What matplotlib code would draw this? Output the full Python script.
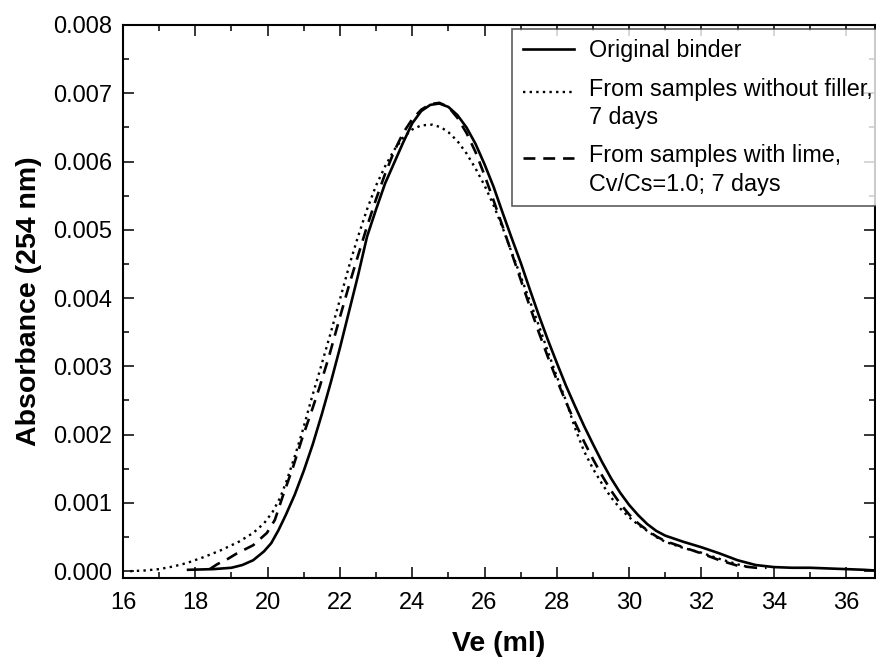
import matplotlib
matplotlib.use("Agg")
import matplotlib.pyplot as plt
import numpy as np
from matplotlib.ticker import MultipleLocator, FormatStrFormatter
from matplotlib.legend_handler import HandlerLine2D

plt.rcParams['font.family'] = ['Liberation Sans', 'DejaVu Sans']

# elution volume (ml) and absorbance (x1e-3)
ve_orig = [17.8, 18.5, 19.0, 19.3, 19.6, 19.9, 20.1, 20.3, 20.5, 20.75, 21.0, 21.25, 21.5,
           21.75, 22.0, 22.25, 22.5, 22.75, 23.0, 23.25, 23.5, 23.75, 24.0, 24.25, 24.5,
           24.75, 25.0, 25.25, 25.5, 25.75, 26.0, 26.25, 26.5, 26.75, 27.0, 27.25, 27.5,
           27.75, 28.0, 28.25, 28.5, 28.75, 29.0, 29.25, 29.5, 29.75, 30.0, 30.25, 30.5,
           30.75, 31.0, 31.5, 32.0, 32.5, 33.0, 33.5, 34.0, 34.5, 35.0, 35.5, 36.0, 36.5, 36.8]
abs_orig = [0.02, 0.03, 0.05, 0.09, 0.16, 0.29, 0.41, 0.6, 0.82, 1.12, 1.47, 1.86, 2.3,
            2.77, 3.27, 3.8, 4.33, 4.9, 5.3, 5.68, 5.98, 6.28, 6.56, 6.74, 6.83,
            6.85, 6.8, 6.68, 6.5, 6.26, 5.96, 5.63, 5.25, 4.88, 4.52, 4.13, 3.75,
            3.39, 3.05, 2.72, 2.42, 2.13, 1.86, 1.6, 1.36, 1.15, 0.97, 0.82, 0.69,
            0.59, 0.52, 0.43, 0.35, 0.26, 0.16, 0.09, 0.06, 0.05, 0.05, 0.04, 0.03, 0.02, 0.01]

ve_nofill = [16.2, 16.6, 17.0, 17.4, 17.77, 18.2, 18.68, 19.2, 19.6, 19.9, 20.14, 20.35,
             20.53, 20.75, 20.97, 21.2, 21.45, 21.75, 22.0, 22.27, 22.5, 22.75, 23.0,
             23.25, 23.5, 23.75, 24.0, 24.25, 24.56, 24.8, 25.0, 25.25, 25.5, 25.75,
             26.0, 26.25, 26.5, 26.75, 27.0, 27.25, 27.5, 27.75, 28.0, 28.25, 28.5,
             28.75, 29.0, 29.25, 29.5, 29.75, 30.0, 30.25, 30.5, 30.75, 31.0, 31.5,
             32.0, 32.5, 33.0, 33.3]
abs_nofill = [0.0, 0.01, 0.03, 0.07, 0.12, 0.2, 0.3, 0.43, 0.56, 0.7, 0.87, 1.08,
              1.33, 1.68, 2.06, 2.5, 2.95, 3.5, 3.98, 4.5, 4.9, 5.3, 5.65,
              5.93, 6.17, 6.35, 6.47, 6.53, 6.54, 6.5, 6.43, 6.3, 6.12, 5.9,
              5.65, 5.36, 5.03, 4.67, 4.32, 3.96, 3.6, 3.22, 2.85, 2.5, 2.1,
              1.76, 1.5, 1.28, 1.08, 0.92, 0.79, 0.68, 0.59, 0.5, 0.43, 0.34,
              0.27, 0.18, 0.1, 0.06]

ve_lime = [18.4, 18.6, 18.9, 19.15, 19.6, 19.98, 20.2, 20.42, 20.7, 20.94, 21.22, 21.44,
           21.7, 22.0, 22.27, 22.5, 22.75, 23.0, 23.25, 23.5, 23.75, 24.0, 24.25, 24.5,
           24.75, 25.0, 25.25, 25.5, 25.75, 26.0, 26.25, 26.5, 26.75, 27.0, 27.25, 27.5,
           27.75, 28.0, 28.25, 28.5, 28.75, 29.0, 29.25, 29.5, 29.75, 30.0, 30.25, 30.5,
           30.75, 31.0, 31.5, 32.0, 32.5, 33.0, 33.5, 33.8]
abs_lime = [0.03, 0.1, 0.18, 0.26, 0.38, 0.56, 0.75, 1.1, 1.52, 1.92, 2.35, 2.7,
            3.15, 3.72, 4.22, 4.62, 5.05, 5.45, 5.82, 6.15, 6.42, 6.62, 6.76, 6.84,
            6.86, 6.8, 6.64, 6.42, 6.14, 5.8, 5.43, 5.05, 4.66, 4.27, 3.88, 3.5,
            3.14, 2.8, 2.48, 2.18, 1.9, 1.64, 1.4, 1.18, 0.99, 0.83, 0.7, 0.6,
            0.51, 0.44, 0.35, 0.26, 0.16, 0.08, 0.05, 0.05]

labels = ["Original binder",
          "From samples without filler,\n7 days",
          "From samples with lime,\nCv/Cs=1.0; 7 days"]


class FirstLineHandler(HandlerLine2D):
    # put the legend sample next to the first line of a two-line label
    def __init__(self, dy, **kw):
        super().__init__(**kw)
        self.dy = dy

    def create_artists(self, legend, orig_handle, xdescent, ydescent, width, height,
                       fontsize, trans):
        artists = super().create_artists(legend, orig_handle, xdescent, ydescent,
                                         width, height, fontsize, trans)
        for a in artists:
            a.set_ydata(np.asarray(a.get_ydata()) + self.dy)
        return artists


fig = plt.figure(figsize=(8.76, 6.59), dpi=100)
ax = fig.add_axes([123/876, 1 - 578/659, 752/876, 553/659])

l1, = ax.plot(ve_orig, [v * 1e-3 for v in abs_orig], color="black", lw=1.9, ls="-",
              label=labels[0])
l2, = ax.plot(ve_nofill, [v * 1e-3 for v in abs_nofill], color="black", lw=1.7,
              ls=(0, (1, 1.8)), label=labels[1])
l3, = ax.plot(ve_lime, [v * 1e-3 for v in abs_lime], color="black", lw=1.9,
              ls=(0, (4.5, 3)), label=labels[2])

ax.set_xlim(16, 36.8)
ax.set_ylim(-0.0001, 0.008)
ax.xaxis.set_major_locator(MultipleLocator(2))
ax.xaxis.set_minor_locator(MultipleLocator(1))
ax.yaxis.set_major_locator(MultipleLocator(0.001))
ax.yaxis.set_minor_locator(MultipleLocator(0.0005))
ax.yaxis.set_major_formatter(FormatStrFormatter("%.3f"))

ax.tick_params(which="both", direction="in", top=True, right=True, width=1.1, labelsize=17)
ax.tick_params(which="major", length=8)
ax.tick_params(which="minor", length=4)
ax.tick_params(axis="x", which="major", pad=10)
ax.tick_params(axis="y", which="major", pad=8)
for s in ax.spines.values():
    s.set_linewidth(1.5)

ax.set_xlabel("Ve (ml)", fontsize=20.5, fontweight="bold", labelpad=12)
ax.set_ylabel("Absorbance (254 nm)", fontsize=20.5, fontweight="bold", labelpad=8)

shift = 9.0
leg = ax.legend(handles=[l1, l2, l3], loc="upper left",
                bbox_to_anchor=(512/876, 1 - 29/659),
                bbox_transform=fig.transFigure, borderaxespad=0, fontsize=16.8,
                frameon=True, fancybox=False, handlelength=2.2, handletextpad=0.65,
                labelspacing=0.65, borderpad=0.45,
                handler_map={l2: FirstLineHandler(shift), l3: FirstLineHandler(shift)})
for t in leg.get_texts():
    t.set_linespacing(1.3)
leg.get_frame().set_edgecolor("#333333")
leg.get_frame().set_linewidth(1.2)

fig.savefig("out.png", dpi=100)
